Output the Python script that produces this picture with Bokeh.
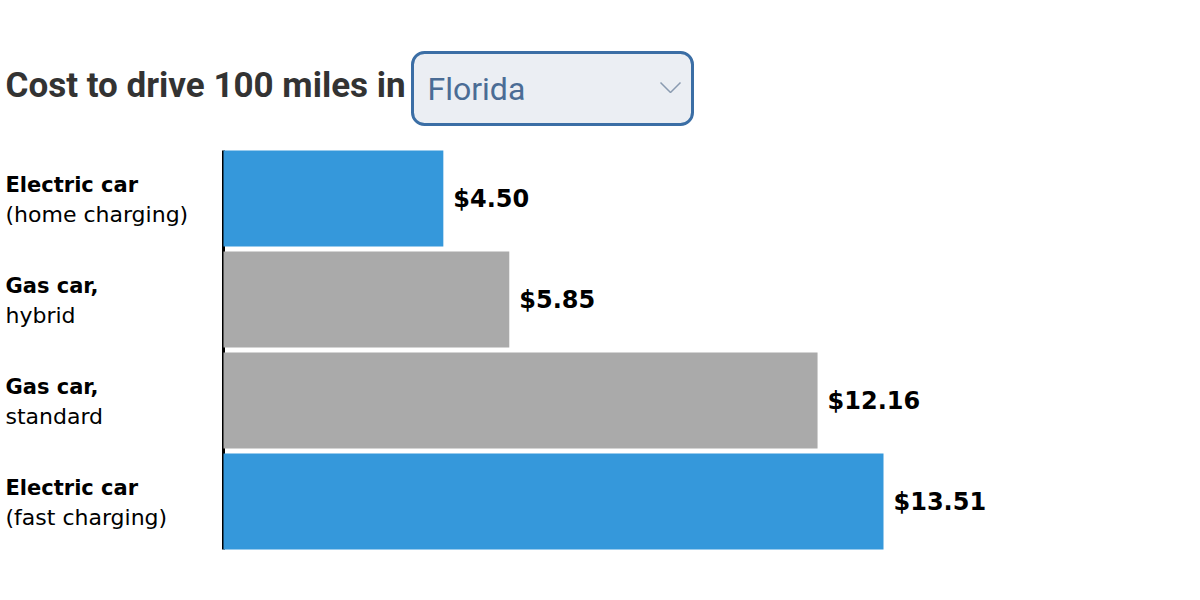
from bokeh.plotting import figure
from bokeh.models import Range1d, ColumnDataSource, LabelSet, BoxAnnotation, Label
from bokeh.embed import file_html
from bokeh.resources import INLINE
from bokeh.core.properties import value

# ---- data ----
line1 = ["Electric car", "Gas car,", "Gas car,", "Electric car"]
line2 = ["(home charging)", "hybrid", "standard", "(fast charging)"]
costs = [4.50, 5.85, 12.16, 13.51]
kinds = ["electric", "gas", "gas", "electric"]
state = "Florida"
title_text = "Cost to drive 100 miles in"

# ---- layout (canvas pixels) ----
W, H = 1190, 590
X0 = 223            # canvas x of $0
PPD = 660 / 13.51   # pixels per dollar
Y0 = 198            # canvas y of first band centre
PITCH = 101         # pixels per band

def dx(px):
    return (px - X0) / PPD

def dy(py):
    return (py - Y0) / PITCH

colors = {"electric": "#3598db", "gas": "#aaaaaa"}

p = figure(width=W, height=H, output_backend="svg", toolbar_location=None,
           x_range=Range1d(dx(0), dx(W)), y_range=Range1d(dy(H), dy(0)),
           min_border=0, x_axis_location=None, y_axis_location=None)
p.outline_line_color = None
p.grid.visible = False
p.background_fill_color = "white"
p.border_fill_color = "white"

idx = list(range(len(costs)))
src = ColumnDataSource(dict(
    y=idx, cost=costs, color=[colors[k] for k in kinds],
    label=["$%.2f" % c for c in costs],
    l1=line1, l2=line2,
    lx=[dx(5)] * len(costs),
))

# axis line
p.segment(x0=0, y0=-0.475, x1=0, y1=len(costs) - 1 + 0.475, line_color="black", line_width=3)

p.hbar(y="y", left=0, right="cost", height=0.95, fill_color="color", line_color=None, source=src)

p.add_layout(LabelSet(x="cost", y="y", text="label", source=src, x_offset=10,
                      text_font=value("DejaVu Sans"), text_font_style="bold",
                      text_font_size="24px", text_color="black",
                      text_baseline="middle", text_align="left"))

p.add_layout(LabelSet(x="lx", y="y", text="l1", source=src, y_offset=14,
                      text_font=value("DejaVu Sans"), text_font_style="bold",
                      text_font_size="21px", text_color="black",
                      text_baseline="middle", text_align="left"))
p.add_layout(LabelSet(x="lx", y="y", text="l2", source=src, y_offset=-16,
                      text_font=value("DejaVu Sans"), text_font_style="normal",
                      text_font_size="22px", text_color="black",
                      text_baseline="middle", text_align="left"))

# title
p.add_layout(Label(x=dx(5), y=dy(85), text=title_text,
                   text_font="Roboto", text_font_style="bold",
                   text_font_size="35px", text_color="#333333",
                   text_baseline="middle", text_align="left"))

# dropdown look-alike
p.add_layout(BoxAnnotation(left=dx(412), right=dx(692), top=dy(52), bottom=dy(124),
                           fill_color="#ebeef3", fill_alpha=1,
                           line_color="#3b6ea5", line_alpha=1, line_width=3,
                           border_radius=12))
p.add_layout(Label(x=dx(427), y=dy(88), text=state,
                   text_font="Roboto", text_font_size="32px",
                   text_color="#4a6c95", text_baseline="middle", text_align="left"))
p.line(x=[dx(660), dx(670), dx(680)], y=[dy(82), dy(92), dy(82)],
       line_color="#8a9bb0", line_width=1.5, level="overlay")

open("out.html", "w").write(file_html(p, INLINE))
